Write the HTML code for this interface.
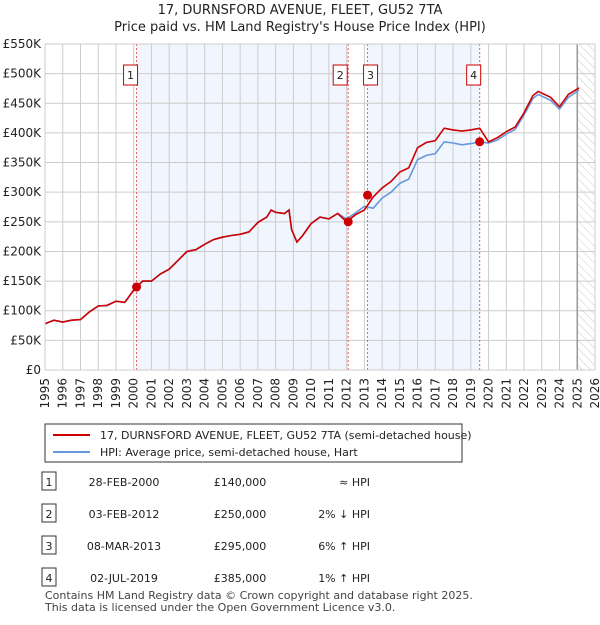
<!DOCTYPE html>
<html><head><meta charset="utf-8">
<style>
body{margin:0;background:#fff;font-family:"Liberation Sans","DejaVu Sans",sans-serif;}
svg text{font-family:"DejaVu Sans","Liberation Sans",sans-serif;}
</style></head>
<body>
<svg id="chart" width="600" height="620" viewBox="0 0 600 620">
<defs>
<pattern id="hatch" width="6" height="6" patternUnits="userSpaceOnUse" patternTransform="rotate(-45)">
<line x1="0" y1="0" x2="0" y2="6" stroke="#ccc" stroke-width="1"/></pattern>
</defs>
<text x="300" y="14" text-anchor="middle" font-size="13" fill="#222">17, DURNSFORD AVENUE, FLEET, GU52 7TA</text>
<text x="300" y="31" text-anchor="middle" font-size="13" fill="#222">Price paid vs. HM Land Registry's House Price Index (HPI)</text>
<g id="plot"></g>
<g>
<rect x="45" y="424" width="417" height="38" fill="#fff" stroke="#333"/>
<line x1="53" y1="435" x2="90" y2="435" stroke="#cc0000" stroke-width="2"/>
<text x="100" y="439" font-size="11" fill="#222">17, DURNSFORD AVENUE, FLEET, GU52 7TA (semi-detached house)</text>
<line x1="53" y1="452" x2="90" y2="452" stroke="#6699dd" stroke-width="2"/>
<text x="100" y="456" font-size="11" fill="#222">HPI: Average price, semi-detached house, Hart</text>
</g>
<g id="table" font-size="11" fill="#222"></g>
<text x="45" y="599" font-size="11" fill="#444">Contains HM Land Registry data © Crown copyright and database right 2025.</text>
<text x="45" y="611" font-size="11" fill="#444">This data is licensed under the Open Government Licence v3.0.</text>
</svg>
<script>
const years=[1995,1995.5,1996,1996.5,1997,1997.5,1998,1998.5,1999,1999.5,2000,2000.5,2001,2001.5,2002,2002.5,2003,2003.5,2004,2004.5,2005,2005.5,2006,2006.5,2007,2007.5,2007.75,2008,2008.5,2008.75,2008.9,2009.2,2009.5,2010,2010.5,2011,2011.5,2012,2012.5,2013,2013.5,2014,2014.5,2015,2015.5,2016,2016.5,2017,2017.5,2018,2018.5,2019,2019.5,2020,2020.5,2021,2021.5,2022,2022.5,2022.8,2023.5,2024,2024.5,2025.1];
const hpiValues=[78,84,81,84,85,98,108,109,116,114,135,150,150,162,170,185,200,203,212,220,224,227,229,233,249,258,270,266,264,270,237,216,226,247,258,255,264,255,265,276,273,290,300,315,322,355,362,365,385,383,380,382,385,383,388,398,406,430,458,465,455,440,460,472];
const propValues=[78,84,81,84,85,98,108,109,116,114,135,150,150,162,170,185,200,203,212,220,224,227,229,233,249,258,270,266,264,270,237,216,226,247,258,255,264,250,262,270,292,307,318,334,341,375,384,387,408,405,403,405,408,385,392,402,410,434,463,470,460,444,465,476];
const saleYears=[2000.16,2012.09,2013.18,2019.5];
const salePrices=[140,250,295,385];
const saleLabels=["1","2","3","4"];
const yTicks=[0,50,100,150,200,250,300,350,400,450,500,550];
const yTickLabels=["£0","£50K","£100K","£150K","£200K","£250K","£300K","£350K","£400K","£450K","£500K","£550K"];
const tDates=["28-FEB-2000","03-FEB-2012","08-MAR-2013","02-JUL-2019"];
const tPrices=["£140,000","£250,000","£295,000","£385,000"];
const tRel=["≈ HPI","2% ↓ HPI","6% ↑ HPI","1% ↑ HPI"];

const NS="http://www.w3.org/2000/svg";
const X0=45,X1=595,Y0=370,Y1=44;
const xs=y=>X0+(y-1995)*(X1-X0)/31;
const ys=v=>Y0-v*(Y0-Y1)/550;
const plot=document.getElementById('plot');
function mk(tag,attrs,parent){const e=document.createElementNS(NS,tag);for(const k in attrs)e.setAttribute(k,attrs[k]);(parent||plot).appendChild(e);return e;}
let sh=mk('rect',{x:xs(saleYears[0]),y:Y1,width:xs(saleYears[1])-xs(saleYears[0]),height:Y0-Y1,fill:'#eef2fc',opacity:0.8});


sh=mk('rect',{x:xs(saleYears[2]),y:Y1,width:xs(saleYears[3])-xs(saleYears[2]),height:Y0-Y1,fill:'#eef2fc',opacity:0.8});


let hz=mk('rect',{x:xs(2025.0),y:Y1,width:X1-xs(2025.0),height:Y0-Y1,fill:'url(#hatch)'});


for(let y=1995;y<=2026;y++){
 const g=mk('line',{x1:xs(y),x2:xs(y),y1:Y1,y2:Y0,stroke:'#ccc','stroke-width':1});
 
 
 const t=mk('text',{x:0,y:0,'font-size':12,fill:'#222','text-anchor':'end',transform:`translate(${xs(y)+4},${Y0+8}) rotate(-90)`});
 t.textContent=y;
 
 
}
yTicks.forEach((v,i)=>{
 const g=mk('line',{x1:X0,x2:X1,y1:ys(v),y2:ys(v),stroke:'#ccc','stroke-width':1});
 
 
 const t=mk('text',{x:41,y:ys(v)+4,'font-size':12,fill:'#222','text-anchor':'end'});
 t.textContent=yTickLabels[i];
 
 
});
let nl=mk('line',{x1:xs(2025.0),x2:xs(2025.0),y1:Y1,y2:Y0,stroke:'#999','stroke-width':1.5});


saleYears.forEach((sy,i)=>{
 const l=mk('line',{x1:xs(sy),x2:xs(sy),y1:Y1,y2:Y0,stroke:'#e06060','stroke-width':1,'stroke-dasharray':'2,2'});
 
 
 const bx=(i==1)?xs(sy)-15:(i==2)?xs(sy)-4:xs(sy)-13;
 const r=mk('rect',{x:bx,y:65,width:14,height:20,fill:'#fff',stroke:'#c00'});
 
 
 const t=mk('text',{x:bx+7,y:79,'font-size':11,fill:'#222','text-anchor':'middle'});
 t.textContent=saleLabels[i];
 
 
});
const path=v=>years.map((y,i)=>(i?'L':'M')+xs(y).toFixed(1)+','+ys(v[i]).toFixed(1)).join('');
const hp=mk('path',{d:path(hpiValues),fill:'none',stroke:'#6699dd','stroke-width':1.6});


const pp=mk('path',{d:path(propValues),fill:'none',stroke:'#cc0000','stroke-width':1.6});


saleYears.forEach((sy,i)=>{
 const c=mk('circle',{cx:xs(sy),cy:ys(salePrices[i]),r:4.5,fill:'#cc0000'});
 
 
});
mk('rect',{x:X0,y:Y1,width:X1-X0,height:Y0-Y1,fill:'none',stroke:'#ccc'});
const tb=document.getElementById('table');
saleLabels.forEach((lab,i)=>{
 const y=484+i*32;
 const r=mk('rect',{x:42,y:y-12,width:14,height:18,fill:'#fff',stroke:'#333'},tb);
 
 
 const cells=[[49,lab,'middle'],[124,tDates[i],'middle'],[240,tPrices[i],'middle'],[370,tRel[i],'end']];
 cells.forEach(([x,s,a],j)=>{
  const t=mk('text',{x:x,y:y+2,'text-anchor':a},tb);
  t.textContent=s;
  
  
 });
});
</script>
</body></html>
